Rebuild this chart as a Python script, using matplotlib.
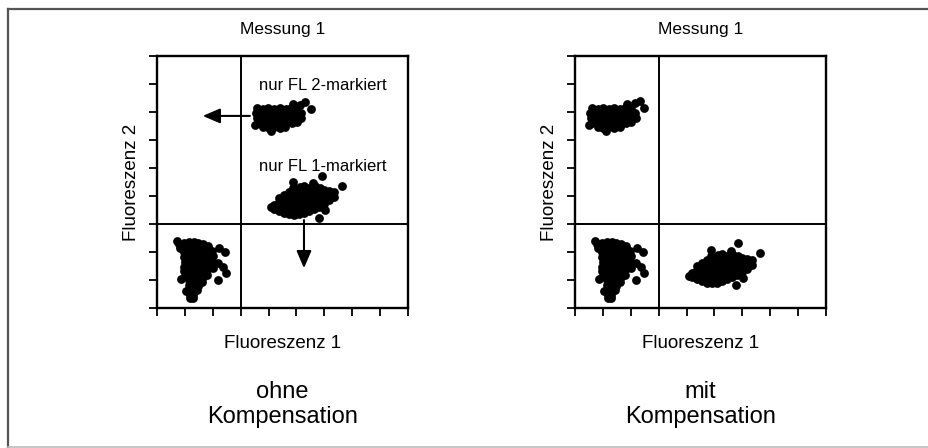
import matplotlib
matplotlib.use('Agg')
import matplotlib.pyplot as plt
from matplotlib.lines import Line2D

plt.rcParams['font.family'] = ['Liberation Sans', 'DejaVu Sans']

# Data ----------------------------------------------------

panel_titles = ['Messung 1', 'Messung 1']
x_label = 'Fluoreszenz 1'
y_label = 'Fluoreszenz 2'
bottom_labels = ['ohne\nKompensation', 'mit\nKompensation']
ticks = list(range(10))
gate = 3

# doppelt negative Population (in beiden Messungen gleich)
dn_x = [0.80, 0.82,
        0.97, 0.98, 0.96, 0.97, 0.99, 0.97, 0.98, 1.00,
        1.14, 1.15, 1.13, 1.14, 1.16, 1.14, 1.13, 1.15, 1.14, 1.16, 1.15, 1.17, 1.18,
        1.31, 1.30, 1.32, 1.31, 1.29, 1.31, 1.32, 1.30, 1.31, 1.29, 1.31, 1.30, 1.28,
        1.48, 1.49, 1.47, 1.48, 1.50, 1.48, 1.47, 1.49, 1.48, 1.46, 1.45,
        1.65, 1.64, 1.66, 1.65, 1.63, 1.65, 1.66, 1.64, 1.62,
        1.82, 1.83, 1.81, 1.82, 1.84, 1.81, 1.80,
        1.99, 2.00, 1.98, 2.01,
        0.72, 0.86, 2.22, 2.44, 2.18, 2.36, 2.47, 2.20, 1.05]
dn_y = [2.30, 2.14,
        2.33, 2.16, 1.99, 1.82, 1.65, 1.48, 1.31, 1.14,
        2.35, 2.18, 2.01, 1.84, 1.67, 1.50, 1.33, 1.16, 0.99, 0.82, 0.65, 0.48, 0.36,
        2.35, 2.18, 2.01, 1.84, 1.67, 1.50, 1.33, 1.16, 0.99, 0.82, 0.65, 0.48, 0.37,
        2.33, 2.16, 1.99, 1.82, 1.65, 1.48, 1.31, 1.14, 0.97, 0.80, 0.63,
        2.30, 2.13, 1.96, 1.79, 1.62, 1.45, 1.28, 1.11, 0.94,
        2.21, 2.04, 1.87, 1.70, 1.53, 1.36, 1.19,
        2.05, 1.86, 1.64, 1.42,
        2.38, 1.02, 2.13, 2.01, 1.60, 1.47, 1.24, 1.00, 0.60]

# nur FL 2-markiert, ohne Kompensation
fl2_ohne_x = [3.60, 3.81, 3.99, 4.21, 4.40, 4.62, 4.79, 5.00,
              3.55, 3.76, 3.95, 4.16, 4.34, 4.56, 4.74, 4.96, 5.16,
              3.58, 3.79, 3.97, 4.19, 4.38, 4.59, 4.77, 4.99, 5.18,
              3.62, 3.83, 4.02, 4.21, 4.43, 4.61, 4.83, 5.02,
              3.81, 4.01, 4.19, 4.41, 4.60,
              4.88, 5.14, 5.30, 5.52, 3.50, 4.10]
fl2_ohne_y = [7.14, 7.10, 7.16, 7.12, 7.15, 7.11, 7.14, 7.09,
              6.96, 6.93, 6.98, 6.95, 6.97, 6.94, 6.96, 6.93, 6.97,
              6.78, 6.80, 6.76, 6.79, 6.77, 6.80, 6.76, 6.79, 6.77,
              6.61, 6.63, 6.59, 6.62, 6.60, 6.63, 6.60, 6.64,
              6.45, 6.43, 6.46, 6.44, 6.47,
              7.27, 7.25, 7.36, 7.10, 6.52, 6.32]

# nur FL 1-markiert, ohne Kompensation
fl1_ohne_x = [4.20, 4.21,
              4.37, 4.39, 4.38, 4.36,
              4.56, 4.55, 4.57, 4.56, 4.54,
              4.74, 4.75, 4.73, 4.74, 4.76, 4.73,
              4.92, 4.91, 4.93, 4.92, 4.90, 4.93, 4.89,
              5.10, 5.11, 5.09, 5.10, 5.12, 5.09, 5.11,
              5.28, 5.27, 5.29, 5.28, 5.26, 5.29, 5.27,
              5.46, 5.47, 5.45, 5.46, 5.48, 5.45,
              5.64, 5.63, 5.65, 5.64, 5.62, 5.65,
              5.82, 5.83, 5.81, 5.82, 5.84,
              6.00, 5.99, 6.01, 6.00,
              6.18, 6.19, 6.17,
              6.34, 6.33,
              4.89, 5.60, 5.90, 6.62, 5.80, 6.02, 4.10]
fl1_ohne_y = [3.52, 3.69,
              3.45, 3.62, 3.79, 3.92,
              3.38, 3.55, 3.72, 3.89, 4.04,
              3.34, 3.51, 3.68, 3.85, 4.02, 4.16,
              3.33, 3.50, 3.67, 3.84, 4.01, 4.18, 4.30,
              3.34, 3.51, 3.68, 3.85, 4.02, 4.19, 4.32,
              3.38, 3.55, 3.72, 3.89, 4.06, 4.23, 4.36,
              3.45, 3.62, 3.79, 3.96, 4.13, 4.30,
              3.52, 3.69, 3.86, 4.03, 4.20, 4.34,
              3.60, 3.77, 3.94, 4.11, 4.28,
              3.70, 3.87, 4.04, 4.21,
              3.84, 4.01, 4.18,
              3.98, 4.13,
              4.51, 4.46, 4.71, 4.37, 3.23, 3.50, 3.60]

# nur FL 2-markiert, mit Kompensation
fl2_mit_x = [0.60, 0.81, 0.99, 1.21, 1.40, 1.62, 1.79, 2.00,
             0.55, 0.76, 0.95, 1.16, 1.34, 1.56, 1.74, 1.96, 2.16,
             0.58, 0.79, 0.97, 1.19, 1.38, 1.59, 1.77, 1.99, 2.18,
             0.62, 0.83, 1.02, 1.21, 1.43, 1.61, 1.83, 2.02,
             0.81, 1.01, 1.19, 1.41, 1.60,
             1.88, 2.15, 2.33, 2.47, 0.50, 1.10]
fl2_mit_y = [7.14, 7.10, 7.16, 7.12, 7.15, 7.11, 7.14, 7.09,
             6.96, 6.93, 6.98, 6.95, 6.97, 6.94, 6.96, 6.93, 6.97,
             6.78, 6.80, 6.76, 6.79, 6.77, 6.80, 6.76, 6.79, 6.77,
             6.61, 6.63, 6.59, 6.62, 6.60, 6.63, 6.60, 6.64,
             6.45, 6.43, 6.46, 6.44, 6.47,
             7.27, 7.32, 7.40, 7.14, 6.52, 6.32]

# nur FL 1-markiert, mit Kompensation
fl1_mit_x = fl1_ohne_x[:-7] + [4.89, 5.60, 5.84, 6.63, 5.79, 6.02, 4.08]
fl1_mit_y = [1.09, 1.26,
             1.02, 1.19, 1.36, 1.49,
             0.95, 1.12, 1.29, 1.46, 1.61,
             0.91, 1.08, 1.25, 1.42, 1.59, 1.73,
             0.90, 1.07, 1.24, 1.41, 1.58, 1.75, 1.87,
             0.91, 1.08, 1.25, 1.42, 1.59, 1.76, 1.89,
             0.95, 1.12, 1.29, 1.46, 1.63, 1.80, 1.93,
             1.02, 1.19, 1.36, 1.53, 1.70, 1.87,
             1.09, 1.26, 1.43, 1.60, 1.77, 1.91,
             1.17, 1.34, 1.51, 1.68, 1.85,
             1.27, 1.44, 1.61, 1.78,
             1.41, 1.58, 1.75,
             1.55, 1.70,
             2.08, 2.03, 2.31, 1.97, 0.82, 1.07, 1.15]

panels = [
    [(dn_x, dn_y), (fl2_ohne_x, fl2_ohne_y), (fl1_ohne_x, fl1_ohne_y)],
    [(dn_x, dn_y), (fl2_mit_x, fl2_mit_y), (fl1_mit_x, fl1_mit_y)],
]

# Plot ====================================================

W, H = 929, 448
fig = plt.figure(figsize=(W / 100, H / 100), dpi=100)

# Rahmen um die Abbildung
fig.add_artist(Line2D([8 / W, 8 / W], [1 - 9 / H, 0], color='#555555', lw=1.6))
fig.add_artist(Line2D([8 / W, 1], [1 - 9 / H, 1 - 9 / H], color='#555555', lw=1.6))
fig.add_artist(Line2D([8 / W, 1], [1 / H, 1 / H], color='#bbbbbb', lw=1.2))

lefts = [157, 575]
for i, left in enumerate(lefts):
    ax = fig.add_axes([left / W, 140 / H, 251 / W, 252 / H])
    for cx, cy in panels[i]:
        ax.scatter(cx, cy, s=40, c='black', linewidths=0, zorder=3)
    ax.axvline(gate, color='black', lw=1.4, zorder=2)
    ax.axhline(gate, color='black', lw=1.4, zorder=2)
    ax.set_xlim(0, 9)
    ax.set_ylim(0, 9)
    ax.set_xticks(ticks)
    ax.set_yticks(ticks)
    ax.set_xticklabels([])
    ax.set_yticklabels([])
    ax.tick_params(direction='out', length=6, width=1.3, color='black')
    for sp in ax.spines.values():
        sp.set_linewidth(1.7)
    ax.set_title(panel_titles[i], fontsize=12.5, pad=16)
    ax.set_xlabel(x_label, fontsize=13.5, labelpad=10)
    ax.set_ylabel(y_label, fontsize=13.5, labelpad=3)
    ax.text(0.5, -0.29, bottom_labels[i], transform=ax.transAxes,
            ha='center', va='top', fontsize=17, linespacing=1.15)

    if i == 0:
        ax.text(5.95, 7.96, 'nur FL 2-markiert', ha='center', va='center', fontsize=12)
        ax.text(5.95, 5.07, 'nur FL 1-markiert', ha='center', va='center', fontsize=12)
        arrow = dict(arrowstyle='-|>,head_length=0.7,head_width=0.3',
                     color='black', lw=1.5, shrinkA=0, shrinkB=0, mutation_scale=15)
        ax.annotate('', xy=(1.64, 6.86), xytext=(3.33, 6.86), arrowprops=arrow)
        ax.annotate('', xy=(5.27, 1.42), xytext=(5.27, 3.14), arrowprops=arrow)

plt.savefig('out.png', dpi=100)
